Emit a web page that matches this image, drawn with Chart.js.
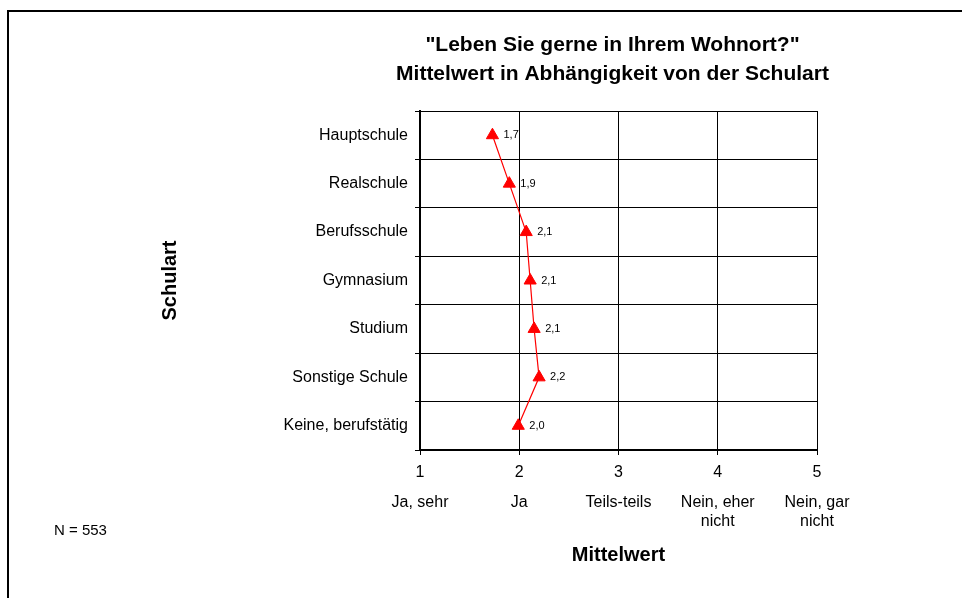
<!DOCTYPE html>
<html>
<head>
<meta charset="utf-8">
<script src="https://cdn.jsdelivr.net/npm/chart.js@4/dist/chart.umd.min.js"></script>
<style>
    html, body { margin: 0; padding: 0; background: #fff; }
    #wrap { width: 962px; height: 598px; }
</style>
</head>
<body>
<div id="wrap"><canvas id="schulartChart" width="962" height="598"></canvas></div>
<script>
// _+_+_+_+_ DATA _+_+_+_+_
const schularten = ['Hauptschule', 'Realschule', 'Berufsschule', 'Gymnasium', 'Studium', 'Sonstige Schule', 'Keine, berufstätig'];
const mittelwerte = [1.73, 1.90, 2.07, 2.11, 2.15, 2.20, 1.99];
const skalaWerte = [1, 2, 3, 4, 5];
const skalaLabels = [['Ja, sehr'], ['Ja'], ['Teils-teils'], ['Nein, eher', 'nicht'], ['Nein, gar', 'nicht']];
const titelZeilen = ['"Leben Sie gerne in Ihrem Wohnort?"', 'Mittelwert in Abhängigkeit von der Schulart'];
const fallzahl = 'N = 553';

const fontFamily = 'Arial, "Liberation Sans", Helvetica, sans-serif';

// frame, title and N text
const framePlugin = {
    id: 'framePlugin',
    beforeDraw(chart) {
        const ctx = chart.ctx;
        ctx.save();
        ctx.fillStyle = '#fff';
        ctx.fillRect(0, 0, chart.width, chart.height);
        ctx.strokeStyle = '#000';
        ctx.lineWidth = 2;
        ctx.beginPath();
        ctx.moveTo(8, chart.height);
        ctx.lineTo(8, 11);
        ctx.lineTo(chart.width, 11);
        ctx.stroke();
        ctx.restore();
    },
    afterDraw(chart) {
        const ctx = chart.ctx;
        const area = chart.chartArea;
        const cx = (area.left + area.right) / 2 - 6;
        ctx.save();
        ctx.fillStyle = '#000';
        ctx.textAlign = 'center';
        ctx.textBaseline = 'middle';
        ctx.font = 'bold 21px ' + fontFamily;
        titelZeilen.forEach((z, i) => ctx.fillText(z, cx, 45 + i * 29));

        ctx.textAlign = 'left';
        ctx.font = '15px ' + fontFamily;
        ctx.fillText(fallzahl, 54, 531);
        ctx.restore();
    }
};

// value labels next to points
const valueLabels = {
    id: 'valueLabels',
    afterDatasetsDraw(chart) {
        const ctx = chart.ctx;
        const meta = chart.getDatasetMeta(0);
        ctx.save();
        ctx.fillStyle = '#000';
        ctx.font = '11px ' + fontFamily;
        ctx.textAlign = 'left';
        ctx.textBaseline = 'middle';
        meta.data.forEach((pt, i) => {
            ctx.fillText(mittelwerte[i].toFixed(1).replace('.', ','), pt.x + 11, pt.y);
        });
        ctx.restore();
    }
};

const canvas = document.getElementById('schulartChart');

new Chart(canvas, {
    type: 'line',
    data: {
        labels: schularten,
        datasets: [{
            data: mittelwerte,
            borderColor: '#ff0000',
            backgroundColor: '#ff0000',
            borderWidth: 1.2,
            pointStyle: 'triangle',
            pointRadius: 7,
            pointBorderWidth: 1,
            tension: 0,
            fill: false
        }]
    },
    options: {
        indexAxis: 'y',
        responsive: false,
        animation: false,
        devicePixelRatio: 1,
        layout: {
            padding: { left: 148, top: 111, right: 145, bottom: 23 }
        },
        plugins: {
            legend: { display: false },
            tooltip: { enabled: false },
            title: { display: false }
        },
        scales: {
            y: {
                type: 'category',
                offset: true,
                afterFit(scale) { scale.width = 272; },
                grid: {
                    offset: true,
                    color: '#000',
                    lineWidth: 1,
                    tickLength: 5
                },
                border: { color: '#000', width: 2 },
                ticks: {
                    color: '#000',
                    padding: 7,
                    font: { family: fontFamily, size: 16 }
                },
                title: {
                    display: true,
                    text: 'Schulart',
                    color: '#000',
                    padding: { top: 10 },
                    font: { family: fontFamily, size: 20, weight: 'bold' }
                }
            },
            x: {
                type: 'linear',
                position: 'bottom',
                min: skalaWerte[0],
                max: skalaWerte[skalaWerte.length - 1],
                afterFit(scale) { scale.height = 29; },
                afterBuildTicks(scale) { scale.ticks = skalaWerte.map(v => ({ value: v })); },
                grid: {
                    color: '#000',
                    lineWidth: 1,
                    tickLength: 5
                },
                border: { color: '#000', width: 2 },
                ticks: {
                    color: '#000',
                    padding: 8,
                    maxRotation: 0,
                    font: { family: fontFamily, size: 16 },
                    callback: (v) => String(v)
                }
            },
            x2: {
                type: 'linear',
                position: 'bottom',
                min: skalaWerte[0],
                max: skalaWerte[skalaWerte.length - 1],
                afterFit(scale) { scale.height = 96; },
                afterBuildTicks(scale) { scale.ticks = skalaWerte.map(v => ({ value: v })); },
                grid: { display: false, drawTicks: false },
                border: { display: false },
                ticks: {
                    color: '#000',
                    padding: 14,
                    maxRotation: 0,
                    autoSkip: false,
                    font: { family: fontFamily, size: 16 },
                    callback: (v, i) => skalaLabels[i]
                },
                title: {
                    display: true,
                    text: 'Mittelwert',
                    color: '#000',
                    padding: { bottom: 8 },
                    font: { family: fontFamily, size: 20, weight: 'bold' }
                }
            }
        }
    },
    plugins: [framePlugin, valueLabels]
});
</script>
</body>
</html>
